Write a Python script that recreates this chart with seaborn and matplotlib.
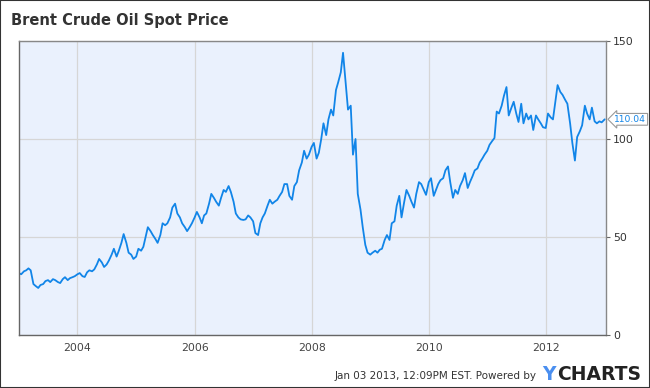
import pandas as pd
import numpy as np
import seaborn as sns
import matplotlib.pyplot as plt
import matplotlib.dates as mdates
import matplotlib.transforms as mtransforms
from matplotlib.patches import Rectangle

# semi-monthly readings (1st and 15th of each month), USD per barrel
p2003 = [31.5, 31.0, 32.5, 33.0, 34.0, 33.0, 26.0, 25.0, 24.0, 25.5, 26.0, 27.5,
         28.0, 27.0, 28.5, 28.0, 27.0, 26.5, 28.5, 29.5, 28.0, 29.0, 29.5, 30.0]
p2004 = [31.0, 31.6, 30.0, 29.6, 32.0, 33.0, 32.5, 33.5, 36.0, 38.8, 37.0, 34.7,
         36.0, 38.0, 41.0, 44.0, 40.0, 43.0, 47.0, 51.5, 47.0, 42.0, 41.0, 38.8]
p2005 = [40.0, 44.0, 43.0, 45.0, 50.0, 55.0, 53.0, 51.0, 49.0, 47.0, 51.0, 57.0,
         56.0, 57.0, 60.0, 65.0, 67.0, 62.0, 60.0, 57.0, 55.0, 53.0, 55.0, 57.0]
p2006 = [60.0, 62.8, 60.0, 57.0, 61.0, 62.0, 67.0, 72.0, 70.0, 68.0, 66.0, 70.0,
         74.0, 73.0, 76.0, 73.0, 68.0, 62.0, 60.0, 59.0, 58.7, 59.0, 61.0, 60.0]
p2007 = [58.0, 52.0, 51.0, 57.0, 60.0, 62.0, 66.0, 69.0, 67.0, 68.0, 69.0, 71.0,
         73.0, 77.0, 77.0, 71.0, 69.0, 76.0, 78.0, 84.0, 88.0, 94.0, 90.0, 92.0]
p2008 = [96.0, 98.0, 90.0, 93.0, 100.0, 108.0, 102.0, 110.0, 115.0, 112.0, 125.0, 129.0,
         134.0, 144.0, 128.0, 115.0, 117.0, 92.0, 100.0, 72.0, 64.0, 55.0, 46.0, 42.0]
p2009 = [41.0, 42.0, 43.0, 42.0, 43.5, 44.0, 48.5, 51.0, 48.5, 57.0, 58.0, 66.0,
         71.0, 60.0, 68.0, 74.0, 71.0, 68.0, 65.0, 72.0, 78.0, 77.0, 74.0, 71.5]
p2010 = [78.0, 80.0, 71.0, 74.0, 77.0, 79.0, 80.0, 84.0, 86.0, 78.0, 70.0, 74.0,
         72.0, 76.0, 79.0, 82.6, 75.0, 78.0, 81.0, 84.0, 85.0, 88.0, 90.0, 92.0]
p2011 = [94.0, 97.0, 99.0, 100.5, 114.0, 113.0, 117.0, 122.0, 126.5, 112.0, 116.0, 119.0,
         113.0, 108.7, 118.0, 108.0, 113.0, 110.0, 112.0, 104.6, 112.0, 110.0, 108.0, 106.0]
p2012 = [105.6, 113.0, 111.0, 110.0, 119.0, 127.5, 124.0, 122.5, 120.0, 118.0, 108.0, 98.0,
         89.0, 101.0, 104.0, 107.0, 117.0, 113.0, 110.0, 116.0, 109.0, 108.0, 109.0, 108.5]
last_date = "2013-01-03"
last_price = 110.04

years = [p2003, p2004, p2005, p2006, p2007, p2008, p2009, p2010, p2011, p2012]
prices = [v for y in years for v in y] + [last_price]
dates = list(pd.date_range("2003-01-01", periods=240, freq="SMS")) + [pd.Timestamp(last_date)]
df = pd.DataFrame({"date": dates, "price": prices})

sns.set_style("white")
plt.rcParams["font.family"] = ["DejaVu Sans"]

fig = plt.figure(figsize=(6.5, 3.88), dpi=100)
ax = fig.add_axes([19 / 650, 1 - 335 / 388, (606 - 19) / 650, (335 - 41) / 388])
ax.set_facecolor("#eaf1fd")

sns.lineplot(data=df, x="date", y="price", ax=ax, color="#1185e8", linewidth=1.3)

ax.set_xlim(pd.Timestamp("2003-01-01"), pd.Timestamp("2013-01-11"))
ax.set_ylim(0, 150)
ax.set_yticks([0, 50, 100, 150])
ax.xaxis.set_major_locator(mdates.YearLocator(2))
ax.xaxis.set_major_formatter(mdates.DateFormatter("%Y"))
ax.grid(True, color="#d6d6d6", linewidth=0.9)
ax.set_axisbelow(True)
ax.set_xlabel("")
ax.set_ylabel("")

ax.yaxis.tick_right()
ax.tick_params(axis="y", which="both", right=True, length=3, width=0.8,
               color="#666666", labelsize=7.8, labelcolor="#333333", pad=2)
ax.tick_params(axis="x", length=0, labelsize=7.8, labelcolor="#444444", pad=6)
for side in ["left", "bottom"]:
    ax.spines[side].set_color("#666666")
    ax.spines[side].set_linewidth(1.0)
for side in ["top", "right"]:
    ax.spines[side].set_color("#888888")
    ax.spines[side].set_linewidth(1.0)

# last value marker on the right axis
trans = mtransforms.blended_transform_factory(ax.transAxes, ax.transData)
ax.text(1.014, last_price, f"{last_price:.2f}", transform=trans, ha="left", va="center",
        fontsize=6.6, color="#1185e8",
        bbox=dict(boxstyle="larrow,pad=0.15", fc="white", ec="#999999", lw=0.8))

fig.text(11 / 650, 1 - 20 / 388, "Brent Crude Oil Spot Price", fontsize=10.5,
         fontweight="bold", color="#333333", ha="left", va="center")

fig.text(537 / 650, 1 - 376 / 388, "Jan 03 2013, 12:09PM EST. Powered by", fontsize=7.5,
         color="#333333", ha="right", va="center")
fig.text(542 / 650, 1 - 374 / 388, "Y", fontsize=13.5, fontweight="bold",
         color="#4a8ff0", ha="left", va="center")
fig.text(557 / 650, 1 - 374 / 388, "CHARTS", fontsize=13.5, fontweight="bold",
         color="#222222", ha="left", va="center")

fig.patches.append(Rectangle((0, 0), 1, 1, transform=fig.transFigure, fill=False,
                             edgecolor="#333333", linewidth=1.5))

fig.savefig("out.png", dpi=100)
